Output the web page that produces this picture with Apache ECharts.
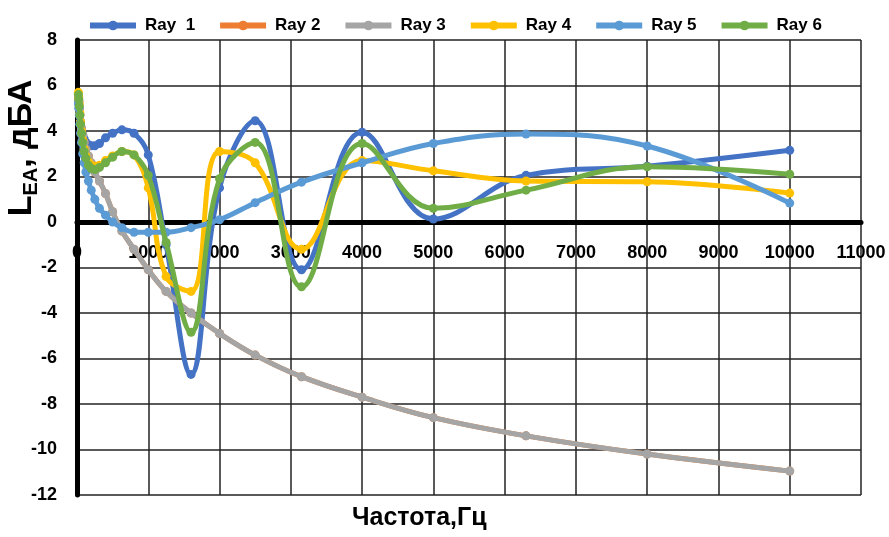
<!DOCTYPE html>
<html>
<head>
<meta charset="utf-8">
<script src="https://cdn.jsdelivr.net/npm/echarts@6/dist/echarts.min.js"></script>
<style>html,body{margin:0;padding:0;background:#fff}#c{width:889px;height:537px}</style>
</head>
<body>
<div id="c"></div>
<script>
const freqs = [20,25,31.5,40,50,63,80,100,125,160,200,250,315,400,500,630,800,1000,1250,1600,2000,2500,3150,4000,5000,6300,8000,10000];
const ray1 = [5.5,5.3,5.0,4.7,4.4,4.1,3.85,3.65,3.5,3.4,3.35,3.35,3.45,3.7,3.9,4.05,3.9,2.95,-1.0,-6.7,1.5,4.45,-2.1,3.95,0.13,2.05,2.45,3.15];
const ray2 = [5.5,5.3,5.0,4.7,4.4,4.1,3.8,3.5,3.2,2.9,2.6,2.2,1.8,1.25,0.45,-0.4,-1.2,-2.1,-3.05,-4.0,-4.9,-5.85,-6.8,-7.7,-8.6,-9.4,-10.2,-10.95];
const ray3 = [5.5,5.3,5.0,4.7,4.4,4.1,3.8,3.5,3.2,2.9,2.6,2.2,1.8,1.25,0.45,-0.4,-1.2,-2.1,-3.05,-4.0,-4.9,-5.85,-6.8,-7.7,-8.6,-9.4,-10.2,-10.95];
const ray4 = [5.7,5.5,5.2,4.8,4.4,4.0,3.6,3.2,2.9,2.65,2.5,2.45,2.5,2.7,2.9,3.1,2.95,1.5,-2.4,-3.05,3.1,2.6,-1.2,2.7,2.25,1.8,1.77,1.27];
const ray5 = [5.2,5.0,4.7,4.3,3.9,3.5,3.0,2.6,2.2,1.8,1.4,1.0,0.6,0.3,0.0,-0.25,-0.45,-0.45,-0.45,-0.25,0.1,0.85,1.75,2.6,3.45,3.87,3.34,0.83];
const ray6 = [5.6,5.4,5.1,4.7,4.3,3.9,3.5,3.1,2.8,2.5,2.35,2.3,2.4,2.6,2.85,3.1,2.95,2.05,-0.9,-4.85,1.9,3.5,-2.85,3.45,0.6,1.4,2.43,2.1];
const seriesNames = ['Ray  1','Ray 2','Ray 3','Ray 4','Ray 5','Ray 6'];
const seriesValues = [ray1, ray2, ray3, ray4, ray5, ray6];
const colors = ['#4472C4','#ED7D31','#A5A5A5','#FFC000','#5B9BD5','#70AD47'];
const xTitle = 'Частота,Гц';
const yMin = -12, yMax = 8;

const font = '"Liberation Sans", Arial, sans-serif';
const gridTop = 40, gridBottom = 42, H = 537;
const plotH = H - gridTop - gridBottom;
const zeroOffset = plotH * (0 - yMin) / (yMax - yMin);

const chart = echarts.init(document.getElementById('c'), null, {renderer:'canvas'});
chart.setOption({
  animation: false,
  color: colors,
  grid: {left: 77, right: 28, top: gridTop, bottom: gridBottom, containLabel: false},
  legend: {
    top: 12, left: 82, itemWidth: 46, itemHeight: 12, itemGap: 22,
    lineStyle: {width: 6},
    textStyle: {fontFamily: font, fontWeight: 'bold', fontSize: 17, color: '#000', padding: [0,0,0,4]},
    data: seriesNames
  },
  xAxis: {
    type: 'value', min: 0, max: 11000, interval: 1000,
    offset: -zeroOffset,
    axisLine: {show: true, onZero: false, lineStyle: {color: '#000', width: 5}},
    axisTick: {show: false},
    axisLabel: {color: '#000', fontWeight: 'bold', fontSize: 18, fontFamily: font, margin: 22, formatter: v => String(v)},
    splitLine: {show: true, lineStyle: {color: '#222', width: 1.5}}
  },
  yAxis: {
    type: 'value', min: yMin, max: yMax, interval: 2,
    axisLine: {show: true, lineStyle: {color: '#000', width: 5}},
    axisTick: {show: false},
    axisLabel: {color: '#000', fontWeight: 'bold', fontSize: 18, fontFamily: font, margin: 20},
    splitLine: {show: true, lineStyle: {color: '#222', width: 1.5}}
  },
  graphic: [
    {type: 'text', left: 352, top: 506, style: {text: xTitle, fontFamily: font, fontWeight: 'bold', fontSize: 25, fill: '#000'}},
    {type: 'text', x: 22, y: 148, rotation: Math.PI/2,
     style: {text: '{a|L}{b|EA}{a|, дБА}', align: 'center', verticalAlign: 'middle', fill: '#000',
       rich: {
         a: {fontFamily: font, fontWeight: 'bold', fontSize: 34, lineHeight: 38, verticalAlign: 'middle'},
         b: {fontFamily: font, fontWeight: 'bold', fontSize: 20, lineHeight: 38, verticalAlign: 'bottom'}
       }}}
  ],
  series: seriesNames.map((n, i) => ({
    name: n, type: 'line', smooth: 0.4,
    data: freqs.map((f, j) => [f, seriesValues[i][j]]),
    symbol: 'circle', symbolSize: 9, showSymbol: true,
    lineStyle: {width: 5, color: colors[i]},
    itemStyle: {color: colors[i]},
    z: 3 + i
  }))
});
</script>
</body>
</html>
